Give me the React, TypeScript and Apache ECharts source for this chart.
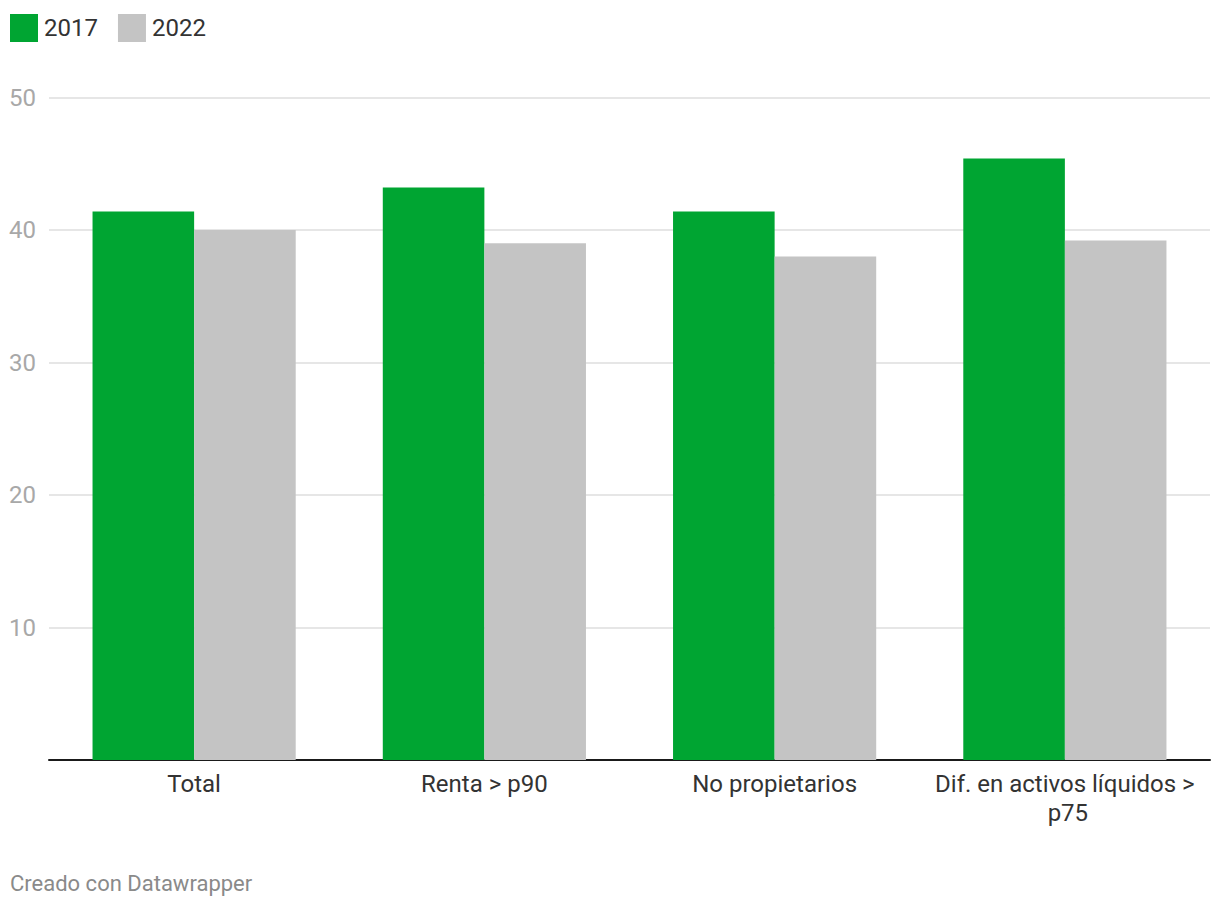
import React, { useEffect, useRef } from "react";
import * as echarts from "echarts";

const categories = ["Total", "Renta > p90", "No propietarios", "Dif. en activos líquidos > p75"];
const seriesNames = ["2017", "2022"];
const values2017 = [41.4, 43.2, 41.4, 45.4];
const values2022 = [40.0, 39.0, 38.0, 39.2];
const yTicks = [0, 10, 20, 30, 40, 50];
const footer = "Creado con Datawrapper";

const FONT = "Roboto, 'Noto Sans', sans-serif";

export default function App() {
  const ref = useRef<HTMLDivElement>(null);
  useEffect(() => {
    if (!ref.current) return;
    const chart = echarts.init(ref.current, undefined, { renderer: "svg" });
    chart.setOption({
      animation: false,
      backgroundColor: "#ffffff",
      textStyle: { fontFamily: FONT },
      legend: {
        left: 10,
        top: 14,
        itemWidth: 28,
        itemHeight: 28,
        itemGap: 20,
        icon: "rect",
        padding: 0,
        data: seriesNames,
        textStyle: { fontSize: 24, color: "#333333", fontFamily: FONT, padding: [0, 0, 0, 1] },
      },
      grid: { left: 49, right: 10, top: 97.5, bottom: 150, containLabel: false },
      xAxis: {
        type: "category",
        data: categories,
        axisLine: { show: true, lineStyle: { color: "#1a1a1a", width: 2 } },
        axisTick: { show: false },
        axisLabel: {
          color: "#333333",
          fontSize: 24,
          lineHeight: 29,
          margin: 9,
          fontFamily: FONT,
          width: 280,
          overflow: "break",
          interval: 0,
        },
      },
      yAxis: {
        type: "value",
        min: yTicks[0],
        max: yTicks[yTicks.length - 1],
        interval: 10,
        axisLine: { show: false },
        axisTick: { show: false },
        splitLine: { show: true, lineStyle: { color: "#e6e6e6", width: 2 } },
        axisLabel: {
          color: "#a8a8a8",
          fontSize: 24,
          margin: 13,
          fontFamily: FONT,
          formatter: (v: number) => (v === 0 ? "" : String(v)),
        },
      },
      series: [
        {
          name: seriesNames[0],
          type: "bar",
          data: values2017,
          itemStyle: { color: "#00a532" },
          barGap: "0%",
          barCategoryGap: "30%",
        },
        {
          name: seriesNames[1],
          type: "bar",
          data: values2022,
          itemStyle: { color: "#c4c4c4" },
          barGap: "0%",
          barCategoryGap: "30%",
        },
      ],
      graphic: [
        {
          type: "text",
          left: 10,
          top: 872,
          style: { text: footer, fontSize: 22, fill: "#8a8a8a", fontFamily: FONT },
        },
      ],
    });
    return () => chart.dispose();
  }, []);
  return (
    <div
      ref={ref}
      style={{ position: "fixed", left: 0, top: 0, width: 1220, height: 910 }}
    />
  );
}
